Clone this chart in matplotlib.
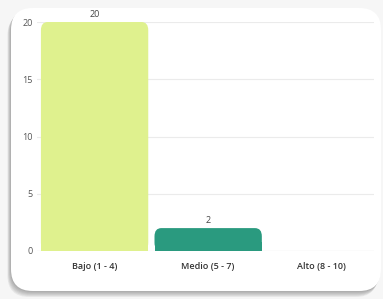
import matplotlib.pyplot as plt
from matplotlib.patches import FancyBboxPatch

categories = ['Bajo (1 - 4)', 'Medio (5 - 7)', 'Alto (8 - 10)']
counts = [20, 2, 0]
colors = ['#dff18e', '#2a9a7f', '#4a7bd0']
yticks = [0, 5, 10, 15, 20]

plt.rcParams['font.family'] = ['Open Sans', 'DejaVu Sans']

W, H = 383, 299
fig = plt.figure(figsize=(W / 100, H / 100), dpi=100)
fig.patch.set_facecolor('#f6f6f6')

# card with a soft shadow (down and to the left)
cx, cy, cw, ch = 11 / W, 1 - 291 / H, 370 / W, 283 / H
for i in range(6):
    d = (i + 1) * 1.0
    sh = FancyBboxPatch((cx - d * 0.6 / W, cy - d / H), cw, ch,
                        boxstyle='round,pad=0,rounding_size=0.057',
                        mutation_aspect=W / H,
                        transform=fig.transFigure, facecolor='#555555', edgecolor='none',
                        alpha=0.09, zorder=-3)
    fig.patches.append(sh)
card = FancyBboxPatch((cx, cy), cw, ch,
                      boxstyle='round,pad=0,rounding_size=0.057',
                      mutation_aspect=W / H,
                      transform=fig.transFigure, facecolor='white', edgecolor='none',
                      zorder=-2)
fig.patches.append(card)

ax = fig.add_axes([37 / W, 1 - 251 / H, 337 / W, 229 / H])
ax.set_facecolor('none')
x = range(len(categories))
bars = ax.bar(x, counts, width=0.945, color=colors, zorder=3)

# round off the top corners
for b in bars:
    b.set_visible(False)
    if b.get_height() <= 0:
        continue
    bx, by = b.get_x(), b.get_y()
    w, h = b.get_width(), b.get_height()
    p = FancyBboxPatch((bx, by), w, h, boxstyle='round,pad=0,rounding_size=0.06',
                       mutation_aspect=12, facecolor=b.get_facecolor(),
                       edgecolor='none', zorder=3)
    ax.add_patch(p)
    ax.add_patch(plt.Rectangle((bx, by), w, min(h, 0.8), facecolor=b.get_facecolor(),
                               edgecolor='none', zorder=3))
    ax.text(bx + w / 2, h + 0.25, str(int(h)), ha='center', va='bottom',
            fontsize=6.5, color='#444444')

ax.set_xlim(-0.507, 2.46)
ax.set_ylim(0, 20)
ax.set_yticks(yticks)
ax.set_xticks(list(x))
ax.set_xticklabels(categories, fontsize=6.5, color='#333333', fontweight='semibold')
ax.tick_params(axis='y', labelsize=6.5, labelcolor='#555555', length=0, pad=3)
ax.tick_params(axis='x', length=0, pad=8)
ax.grid(axis='y', color='#ebebeb', linewidth=0.8, zorder=0)
for s in ax.spines.values():
    s.set_visible(False)
ax.axhline(0, color='#e6e6e6', linewidth=0.8, zorder=2)

fig.savefig('out.png', dpi=100)
